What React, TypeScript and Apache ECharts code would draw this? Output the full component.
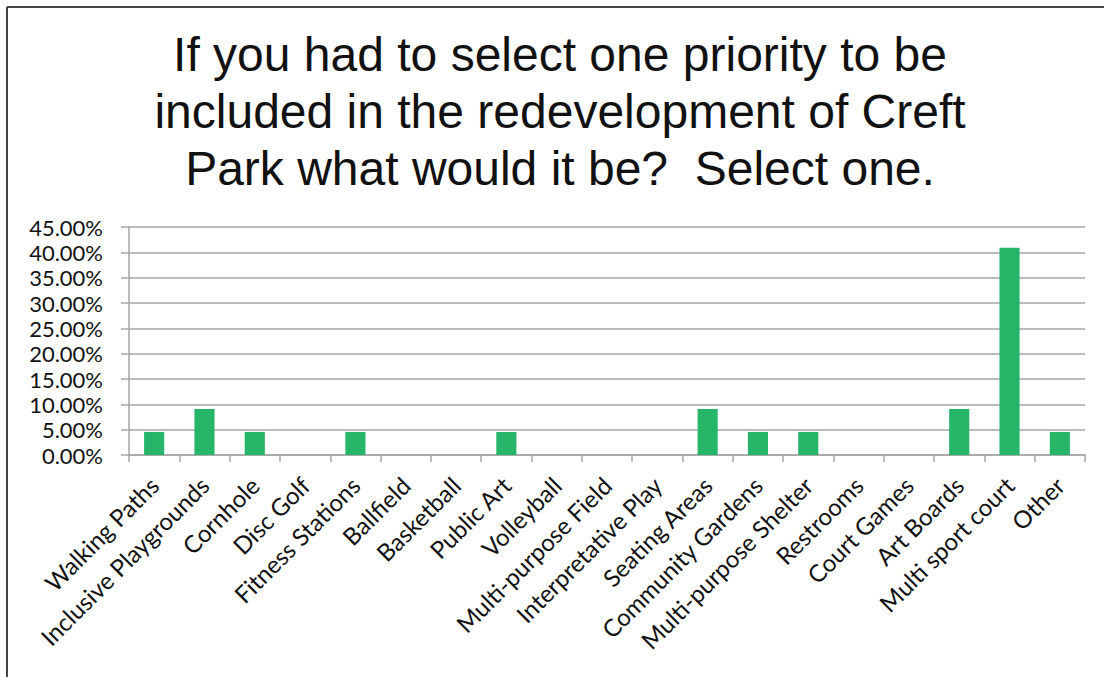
import React, { useEffect, useRef } from "react";
import * as echarts from "echarts";

const categories = [
  "Walking Paths",
  "Inclusive Playgrounds",
  "Cornhole",
  "Disc Golf",
  "Fitness Stations",
  "Ballfield",
  "Basketball",
  "Public Art",
  "Volleyball",
  "Multi-purpose Field",
  "Interpretative Play",
  "Seating Areas",
  "Community Gardens",
  "Multi-purpose Shelter",
  "Restrooms",
  "Court Games",
  "Art Boards",
  "Multi sport court",
  "Other",
];

const percentages = [
  4.55, 9.09, 4.55, 0, 4.55, 0, 0, 4.55, 0, 0, 0, 9.09, 4.55, 4.55, 0, 0, 9.09, 40.91, 4.55,
];

const titleText =
  "If you had to select one priority to be\nincluded in the redevelopment of Creft\nPark what would it be?  Select one.";

export default function App() {
  const ref = useRef<HTMLDivElement>(null);
  useEffect(() => {
    if (!ref.current) return;
    const chart = echarts.init(ref.current, undefined, { renderer: "svg" });
    chart.setOption({
      animation: false,
      backgroundColor: "#ffffff",
      title: {
        text: titleText,
        left: 555,
        top: 21,
        textAlign: "center",
        textStyle: {
          fontFamily: "'Liberation Sans', Arial, sans-serif",
          fontSize: 48,
          fontWeight: "normal",
          color: "#111111",
          lineHeight: 57,
        },
      },
      graphic: [
        {
          type: "line",
          shape: { x1: 7, y1: 7, x2: 1104, y2: 7 },
          style: { stroke: "#444444", lineWidth: 2 },
        },
        {
          type: "line",
          shape: { x1: 7, y1: 7, x2: 7, y2: 677 },
          style: { stroke: "#444444", lineWidth: 2 },
        },
      ],
      grid: { left: 129, right: 19, top: 227, bottom: 222 },
      xAxis: {
        type: "category",
        data: categories,
        boundaryGap: true,
        axisLine: { lineStyle: { color: "#a6a6a6", width: 1.5 } },
        axisTick: { show: true, length: 7, lineStyle: { color: "#a6a6a6", width: 1.5 } },
        axisLabel: {
          interval: 0,
          rotate: 45,
          margin: 26,
          fontFamily: "Lato, 'Open Sans', sans-serif",
          fontSize: 24,
          color: "#111111",
        },
      },
      yAxis: {
        type: "value",
        min: 0,
        max: 45,
        interval: 5,
        axisLine: { show: true, lineStyle: { color: "#a6a6a6", width: 1.5 } },
        axisTick: { show: true, length: 8, lineStyle: { color: "#a6a6a6", width: 1.5 } },
        splitLine: { show: true, lineStyle: { color: "#a6a6a6", width: 1.5 } },
        axisLabel: {
          margin: 26,
          fontFamily: "Lato, 'Open Sans', sans-serif",
          fontSize: 22,
          color: "#111111",
          formatter: (v: number) => v.toFixed(2) + "%",
        },
      },
      series: [
        {
          type: "bar",
          data: percentages,
          barWidth: "40%",
          itemStyle: { color: "#27b56a" },
        },
      ],
    });
    return () => chart.dispose();
  }, []);
  return (
    <div
      ref={ref}
      style={{ position: "fixed", left: 0, top: 0, width: 1104, height: 677 }}
    />
  );
}
